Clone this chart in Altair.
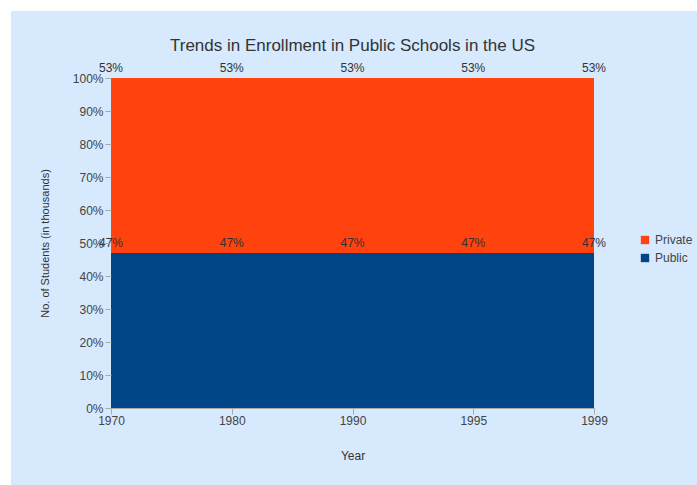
import altair as alt
import pandas as pd

years = ["1970", "1980", "1990", "1995", "1999"]
public_pct = [47, 47, 47, 47, 47]
private_pct = [53, 53, 53, 53, 53]
series = ["Public", "Private"]
colors = ["#004586", "#ff420e"]
y_ticks = [0, 0.1, 0.2, 0.3, 0.4, 0.5, 0.6, 0.7, 0.8, 0.9, 1.0]

rows = []
for i, y in enumerate(years):
    cum = 0
    for s, vals in zip(series, [public_pct, private_pct]):
        v = vals[i]
        cum += v
        rows.append({"Year": y, "Series": s, "Pct": v, "Top": cum / 100.0,
                     "Label": f"{v}%"})
df = pd.DataFrame(rows)

FONT = "Liberation Sans"
W, H = 483, 330
PL, PT = 111, 78
PR, PB = 697 - 111 - W, 485 - 78 - H

bg = alt.Chart(pd.DataFrame({"a": [0]})).mark_rect(color="#d6e9fd").encode(
    x=alt.value(11 - PL), x2=alt.value(697 - PL + 5),
    y=alt.value(11 - PT), y2=alt.value(485 - PT + 5),
)

x_axis = alt.Axis(title="Year", labelAngle=0, labelFontSize=12,
                  labelColor="#444", titleFontSize=12,
                  titleFontWeight="normal", titleColor="#333",
                  titlePadding=24, tickColor="#aaa", tickSize=6,
                  domainColor="#aaa", labelPadding=1,
                  labelFont=FONT, titleFont=FONT, zindex=1)
y_axis = alt.Axis(title="No. of Students (in thousands)", format=".0%",
                  values=y_ticks, labelOverlap=False,
                  labelFontSize=12, labelColor="#444",
                  titleFontSize=11, titleFontWeight="normal",
                  titleColor="#333", titlePadding=22,
                  tickColor="#aaa", tickSize=6, domain=False,
                  grid=False, labelFont=FONT, titleFont=FONT, zindex=1)
x_scale = alt.Scale(type="point", padding=0)
y_scale = alt.Scale(domain=[0, 1])

area = alt.Chart(df).mark_area(opacity=1).encode(
    x=alt.X("Year:O", sort=years, scale=x_scale, axis=x_axis),
    y=alt.Y("Pct:Q", stack="normalize", scale=y_scale, axis=y_axis),
    color=alt.Color("Series:N",
                    scale=alt.Scale(domain=["Private", "Public"],
                                    range=[colors[1], colors[0]]),
                    legend=alt.Legend(title=None, orient="none",
                                      legendX=528, legendY=156,
                                      symbolType="square", symbolSize=70,
                                      labelFontSize=12, labelColor="#444",
                                      labelFont=FONT, rowPadding=6,
                                      symbolStrokeWidth=0, zindex=1)),
)

labels = alt.Chart(df).mark_text(baseline="bottom", dy=-3, fontSize=12,
                                 color="#333", font=FONT).encode(
    x=alt.X("Year:O", sort=years, scale=x_scale, axis=x_axis),
    y=alt.Y("Top:Q", scale=y_scale, axis=y_axis),
    text="Label:N",
)

chart = alt.layer(bg, area, labels).properties(
    width=W, height=H,
    padding={"left": PL, "top": PT, "right": PR, "bottom": PB},
    autosize=alt.AutoSizeParams(type="none"),
    background="white",
    title=alt.TitleParams("Trends in Enrollment in Public Schools in the US",
                          fontSize=17, fontWeight="normal", color="#333",
                          font=FONT, anchor="middle", offset=-44, zindex=1),
).configure_view(stroke=None)

chart.save("out.html", embed_options={"renderer": "svg", "actions": False})
